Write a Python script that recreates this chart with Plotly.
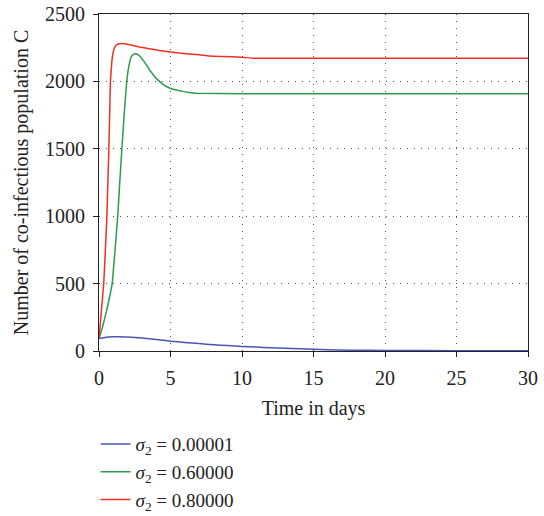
import plotly.graph_objects as go

t_blue = [0, 0.5, 1, 1.5, 2, 3, 4, 5, 6, 7, 8, 9, 10, 11, 12, 13, 14, 15, 16, 17.5, 20, 25, 30]
c_blue = [92, 102, 105, 105, 103, 96, 85, 73, 63, 55, 47, 40, 34, 29, 24, 20, 16, 13, 10, 6, 4, 2, 1]

t_green = [0, 0.25, 0.5, 0.7, 0.92, 1.1, 1.31, 1.45, 1.6, 1.77, 1.94, 2.1, 2.25, 2.4, 2.6, 2.8,
           3.06, 3.3, 3.53, 3.88, 4.23, 4.55, 4.93, 5.4, 5.86, 6.3, 6.8, 10, 20, 30]
c_green = [92, 180, 285, 380, 500, 720, 1000, 1250, 1500, 1770, 2000, 2120, 2180, 2200, 2205, 2192,
           2161, 2125, 2087, 2037, 2000, 1973, 1951, 1936, 1926, 1918, 1912, 1908, 1908, 1908]

t_red = [0, 0.1, 0.2, 0.33, 0.45, 0.55, 0.62, 0.69, 0.75, 0.8, 0.9, 1.0, 1.08, 1.2, 1.3, 1.43, 1.65,
         2.0, 2.4, 2.83, 3.5, 4.23, 5.0, 5.63, 7.0, 7.7, 8.6, 10, 10.8, 12, 20, 30]
c_red = [92, 215, 340, 500, 760, 1000, 1250, 1500, 1780, 2000, 2150, 2220, 2250, 2268, 2276, 2280,
         2282, 2276, 2266, 2255, 2243, 2230, 2218, 2210, 2198, 2188, 2184, 2180, 2172, 2172, 2172, 2172]

labels = ["<i>σ</i><sub>2</sub> = 0.00001", "<i>σ</i><sub>2</sub> = 0.60000", "<i>σ</i><sub>2</sub> = 0.80000"]
colors = ["#4a55b8", "#2e9a4e", "#ee3124"]

x_ticks = [0, 5, 10, 15, 20, 25, 30]
y_ticks = [0, 500, 1000, 1500, 2000, 2500]

fig = go.Figure()
for t, c, lab, col in zip([t_blue, t_green, t_red], [c_blue, c_green, c_red], labels, colors):
    fig.add_trace(go.Scatter(x=t, y=c, mode="lines", name=lab,
                             line=dict(color=col, width=1.5, shape="spline", smoothing=0.3)))

font = "Liberation Serif, Times New Roman, serif"
fig.update_layout(
    width=544, height=516,
    margin=dict(l=99, r=16, t=14, b=165, autoexpand=False),
    paper_bgcolor="white", plot_bgcolor="white",
    font=dict(family=font, size=20, color="#222"),
    showlegend=True,
    legend=dict(x=-0.008, y=-0.22, xanchor="left", yanchor="top",
                font=dict(size=19, family=font), tracegroupgap=0,
                bgcolor="rgba(0,0,0,0)"),
    xaxis=dict(range=[0, 30], tickvals=x_ticks, ticks="outside", ticklen=5, tickcolor="#222",
               showline=True, linecolor="#222", linewidth=1.2, mirror=True,
               showgrid=True, gridcolor="#555", griddash="1px,6px", gridwidth=1,
               zeroline=False, tickfont=dict(size=20), ticklabelstandoff=4, automargin=False,
               title=dict(text="Time in days", font=dict(size=20), standoff=12)),
    yaxis=dict(range=[0, 2500], tickvals=y_ticks, ticks="outside", ticklen=5, tickcolor="#222",
               showline=True, linecolor="#222", linewidth=1.2, mirror=True,
               showgrid=True, gridcolor="#555", griddash="1px,6px", gridwidth=1,
               zeroline=False, tickfont=dict(size=20), ticklabelstandoff=4, automargin=False,
               title=dict(text="Number of co-infectious population C", font=dict(size=20), standoff=10)),
)

fig.write_html("out.html")
